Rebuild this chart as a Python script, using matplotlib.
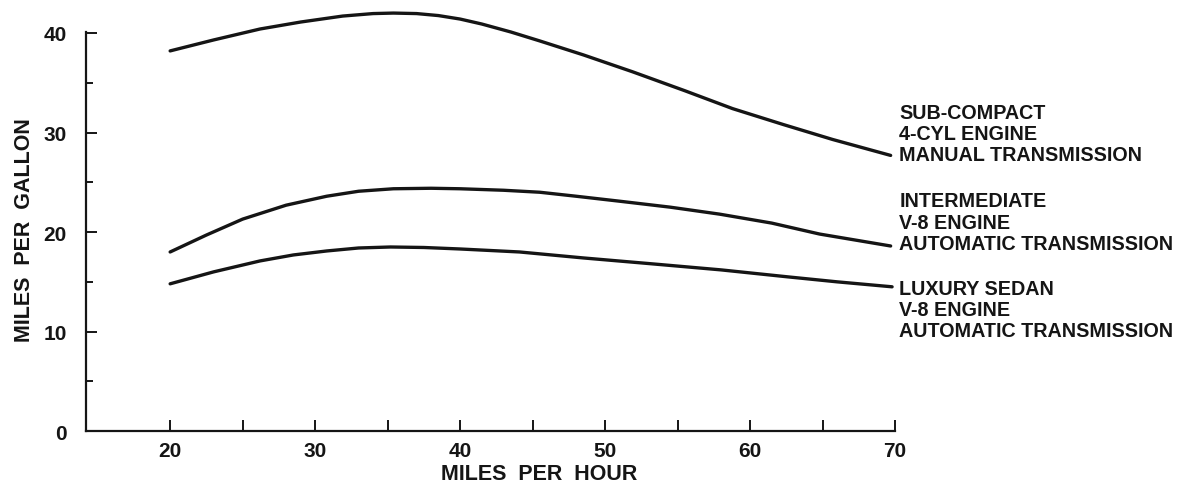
import matplotlib
matplotlib.use('Agg')
import matplotlib.pyplot as plt
import numpy as np
from matplotlib.ticker import FixedLocator

plt.rcParams['font.family'] = ['Liberation Sans', 'DejaVu Sans']
plt.rcParams['font.weight'] = 'bold'

# speed (mph) and fuel economy (mpg)
mph_sub = [20, 23, 26.2, 29, 31.9, 34, 35.4, 37, 38.5, 40, 41.5, 43.5, 45.5, 48.5, 51.9, 55.5, 58.8, 62.3, 65.7, 69.7]
mpg_sub = [38.2, 39.3, 40.4, 41.1, 41.7, 41.95, 42.0, 41.95, 41.75, 41.4, 40.9, 40.1, 39.2, 37.8, 36.1, 34.2, 32.4, 30.8, 29.3, 27.7]

mph_mid = [20, 22.5, 25, 28, 30.8, 33, 35.4, 38, 40, 43, 45.5, 48, 51, 54.5, 57.9, 61.5, 64.8, 69.7]
mpg_mid = [18.0, 19.7, 21.3, 22.7, 23.6, 24.1, 24.35, 24.4, 24.35, 24.2, 24.0, 23.6, 23.1, 22.5, 21.8, 20.9, 19.8, 18.6]

mph_lux = [20, 23, 26.2, 28.5, 30.8, 33, 35.2, 37.5, 40, 44.1, 48.5, 53.3, 58, 62.6, 66, 69.8]
mpg_lux = [14.8, 16.0, 17.1, 17.7, 18.1, 18.4, 18.5, 18.45, 18.3, 18.0, 17.4, 16.8, 16.2, 15.5, 15.0, 14.5]

labels = ['SUB-COMPACT\n4-CYL ENGINE\nMANUAL TRANSMISSION',
          'INTERMEDIATE\nV-8 ENGINE\nAUTOMATIC TRANSMISSION',
          'LUXURY SEDAN\nV-8 ENGINE\nAUTOMATIC TRANSMISSION']
label_y = [29.9, 21.0, 12.2]

x_major = [20, 30, 40, 50, 60, 70]
x_minor = [25, 35, 45, 55, 65]
y_major = [0, 10, 20, 30, 40]
y_minor = [5, 15, 25, 35]

ink = '#151515'

fig = plt.figure(figsize=(11.87, 4.85), dpi=100)
ax = fig.add_axes([0.0725, 0.109, 0.6815, 0.8825])

for xs, ys in [(mph_sub, mpg_sub), (mph_mid, mpg_mid), (mph_lux, mpg_lux)]:
    ax.plot(xs, ys, color=ink, lw=2.4, solid_capstyle='round', solid_joinstyle='round')

for text, y in zip(labels, label_y):
    ax.text(70.3, y, text, fontsize=14.2, fontweight='bold', color=ink,
            va='center', ha='left', linespacing=1.15, clip_on=False)

ax.set_xlim(14.2, 70)
ax.set_ylim(0, 43)
ax.spines['top'].set_visible(False)
ax.spines['right'].set_visible(False)
ax.spines['left'].set_bounds(0, 40.1)
for s in ['left', 'bottom']:
    ax.spines[s].set_linewidth(1.6)
    ax.spines[s].set_color(ink)

ax.xaxis.set_major_locator(FixedLocator(x_major))
ax.xaxis.set_minor_locator(FixedLocator(x_minor))
ax.yaxis.set_major_locator(FixedLocator(y_major))
ax.yaxis.set_minor_locator(FixedLocator(y_minor))
ax.tick_params(axis='both', which='both', direction='in', color=ink, width=1.4)
ax.tick_params(axis='x', which='both', length=8, labelsize=15, pad=7)
ax.tick_params(axis='y', which='major', length=8, labelsize=15, pad=14)
ax.tick_params(axis='y', which='minor', length=5)
for lab in ax.get_xticklabels() + ax.get_yticklabels():
    lab.set_fontweight('bold')
    lab.set_color(ink)

# axis titles placed in figure coords (as in the scanned original)
fig.text(0.454, 0.022, 'MILES  PER  HOUR', fontsize=15.5, fontweight='bold',
         color=ink, ha='center', va='center')
fig.text(0.021, 0.526, 'MILES  PER  GALLON', fontsize=15.5, fontweight='bold',
         color=ink, ha='center', va='center', rotation=90)

plt.savefig('out.png', dpi=100)
